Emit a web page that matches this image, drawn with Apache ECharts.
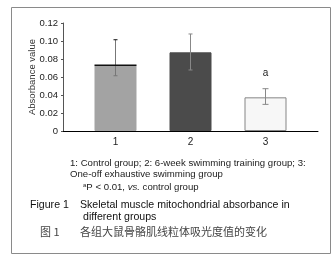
<!DOCTYPE html>
<html>
<head>
<meta charset="utf-8">
<script src="https://cdn.jsdelivr.net/npm/echarts@6/dist/echarts.min.js"></script>
<style>
  html, body { margin: 0; padding: 0; background: #fff; }
  #chart { width: 336px; height: 258px; }
</style>
</head>
<body>
<div id="chart"></div>
<script>
// groups and values
const groups = ["1", "2", "3"];
const means = [0.073, 0.0874, 0.0374];
const errHi = [0.1014, 0.1078, 0.047];
const errLo = [0.0614, 0.0678, 0.0296];
const marks = ["", "", "a"];

const barColors = ["#a3a3a3", "#4b4b4b", "#f7f7f7"];
const barBorders = ["#a3a3a3", "#4b4b4b", "#858585"];

const font = "Liberation Sans, Arial, sans-serif";

const chart = echarts.init(document.getElementById("chart"));

const option = {
  backgroundColor: "#fff",
  animation: false,
  grid: { left: 63, right: 18, top: 23, bottom: 127 },
  xAxis: {
    type: "value",
    min: 0.3,
    max: 3.7,
    splitLine: { show: false },
    axisTick: { show: false },
    axisLine: { lineStyle: { color: "#000", width: 1 } },
    axisLabel: {
      customValues: [1, 2, 3],
      formatter: (v) => groups[Math.round(v) - 1],
      color: "#222",
      fontFamily: font,
      fontSize: 10,
      margin: 6,
    },
  },
  yAxis: {
    type: "value",
    min: 0,
    max: 0.12,
    interval: 0.02,
    name: "Absorbance value",
    nameLocation: "middle",
    nameGap: 26,
    nameMoveOverlap: false,
    nameTextStyle: { color: "#333", fontFamily: font, fontSize: 9.5 },
    splitLine: { show: false },
    axisLine: { show: true, lineStyle: { color: "#555", width: 1 } },
    axisTick: { show: true, length: 2, lineStyle: { color: "#555" } },
    axisLabel: {
      formatter: (v) => (v === 0 ? "0" : v.toFixed(2)),
      color: "#222",
      fontFamily: font,
      fontSize: 9.5,
      margin: 5,
    },
  },
  series: [
    {
      type: "bar",
      barWidth: 42,
      data: means.map((m, i) => ({
        value: [i + 1, m],
        itemStyle: { color: barColors[i], borderColor: barBorders[i], borderWidth: 1 },
      })),
    },
    {
      type: "custom",
      data: means.map((m, i) => [i + 1, m, errHi[i], errLo[i]]),
      renderItem: (params, api) => {
        const x = api.value(0);
        const i = params.dataIndex;
        const top = api.coord([x, api.value(2)]);
        const bot = api.coord([x, api.value(3)]);
        const mid = api.coord([x, api.value(1)]);
        const cap = i === 2 ? 3 : 2;
        const col = i === 0 ? "#777" : "#888";
        const kids = [
          { type: "line", shape: { x1: top[0], y1: top[1], x2: bot[0], y2: bot[1] }, style: { stroke: col, lineWidth: 1 } },
          { type: "line", shape: { x1: top[0] - cap, y1: top[1], x2: top[0] + cap, y2: top[1] }, style: { stroke: i === 0 ? "#111" : col, lineWidth: 1 } },
          { type: "line", shape: { x1: bot[0] - cap, y1: bot[1], x2: bot[0] + cap, y2: bot[1] }, style: { stroke: col, lineWidth: 1 } },
        ];
        if (i === 0) {
          // darker top edge of the first bar
          kids.push({ type: "line", shape: { x1: mid[0] - 21, y1: mid[1], x2: mid[0] + 21, y2: mid[1] }, style: { stroke: "#111", lineWidth: 1.5 } });
        }
        if (marks[i]) {
          kids.push({
            type: "text",
            style: { text: marks[i], x: top[0], y: top[1] - 15, align: "center", verticalAlign: "middle", fill: "#222", font: "10px " + font },
          });
        }
        return { type: "group", children: kids };
      },
      z: 5,
    },
  ],
  graphic: [
    { type: "rect", shape: { x: 11.5, y: 7.5, width: 319, height: 246 }, style: { fill: "none", stroke: "#8a8a8a", lineWidth: 1 }, z: -1 },
    { type: "text", left: 70, top: 158, style: { text: "1: Control group; 2: 6-week swimming training group; 3:", fill: "#222", font: "9.6px " + font } },
    { type: "text", left: 70, top: 169, style: { text: "One-off exhaustive swimming group", fill: "#222", font: "9.6px " + font } },
    {
      type: "text", left: 83, top: 182,
      style: {
        text: "{s|a}P < 0.01, {i|vs.} control group",
        fill: "#222",
        font: "9.6px " + font,
        rich: {
          s: { fontSize: 6, verticalAlign: "top", padding: [0, 0, 4, 0] },
          i: { fontStyle: "italic", fontSize: 9.6 },
        },
      },
    },
    { type: "text", left: 30, top: 200, style: { text: "Figure 1", fill: "#111", font: "10.6px " + font } },
    { type: "text", left: 80, top: 200, style: { text: "Skeletal muscle mitochondrial absorbance in", fill: "#111", font: "10.6px " + font } },
    { type: "text", left: 83, top: 212, style: { text: "different groups", fill: "#111", font: "10.6px " + font } },
    { type: "text", left: 40, top: 226, style: { text: "图 1", fill: "#444", font: "11px Noto Sans CJK SC" } },
    { type: "text", left: 80, top: 226, style: { text: "各组大鼠骨骼肌线粒体吸光度值的变化", fill: "#444", font: "11px Noto Sans CJK SC" } },
  ],
};

chart.setOption(option);
</script>
</body>
</html>
